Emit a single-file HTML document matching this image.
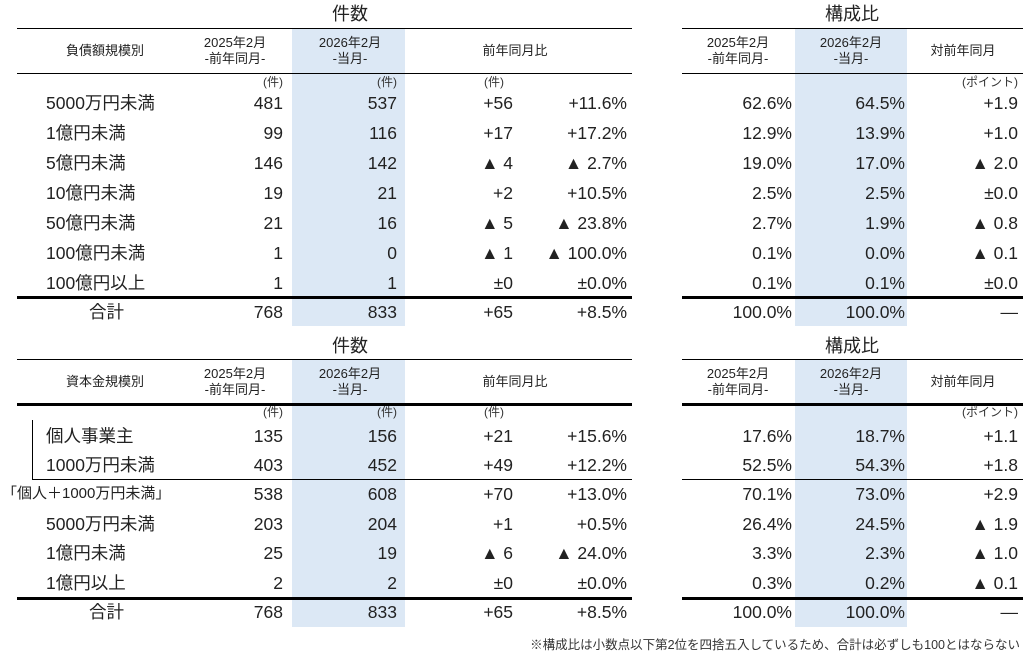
<!DOCTYPE html>
<html><head><meta charset="utf-8"><style>
body{margin:0;width:1035px;height:669px;background:#fff;position:relative;overflow:hidden;font-family:"Liberation Sans","Noto Sans CJK JP",sans-serif;color:#222}
div{position:absolute;white-space:nowrap}
.b{background:#dce8f5}
.l{background:#000;height:1px}
.t{height:3px;background:#000}
.r{font-size:17.5px;text-align:right;line-height:20px}
.c{font-size:13px;text-align:center;line-height:16px}
.u{font-size:12px;text-align:right;line-height:13px;color:#333}
.h{font-size:18px;text-align:center;line-height:20px}
</style></head><body>
<div class="b" style="left:292px;top:29px;width:113px;height:297px"></div>
<div class="b" style="left:795px;top:29px;width:112px;height:297px"></div>
<div class="b" style="left:292px;top:360px;width:113px;height:267px"></div>
<div class="b" style="left:795px;top:360px;width:112px;height:267px"></div>

<div class="h" style="left:300px;top:4px;width:100px">件数</div>
<div class="h" style="left:802px;top:4px;width:100px">構成比</div>
<div class="h" style="left:300px;top:336px;width:100px">件数</div>
<div class="h" style="left:802px;top:336px;width:100px">構成比</div>

<div class="l" style="left:17px;top:28px;width:615px"></div>
<div class="l" style="left:682px;top:28px;width:341px"></div>
<div class="l" style="left:17px;top:73px;width:615px"></div>
<div class="l" style="left:682px;top:73px;width:341px"></div>
<div class="t" style="left:17px;top:296px;width:615px"></div>
<div class="t" style="left:682px;top:296px;width:341px"></div>
<div class="l" style="left:17px;top:359px;width:615px"></div>
<div class="l" style="left:682px;top:359px;width:341px"></div>
<div class="t" style="left:17px;top:403px;width:615px"></div>
<div class="t" style="left:682px;top:403px;width:341px"></div>
<div class="l" style="left:32px;top:479px;width:600px"></div>
<div class="l" style="left:682px;top:479px;width:341px"></div>
<div style="left:32px;top:420px;width:1px;height:60px;background:#000"></div>
<div class="t" style="left:17px;top:597px;width:615px"></div>
<div class="t" style="left:682px;top:597px;width:341px"></div>

<div class="c" style="left:40px;top:43px;width:130px">負債額規模別</div>
<div class="c" style="left:175px;top:35px;width:120px">2025年2月<br>-前年同月-</div>
<div class="c" style="left:290px;top:35px;width:120px">2026年2月<br>-当月-</div>
<div class="c" style="left:455px;top:43px;width:120px">前年同月比</div>
<div class="c" style="left:678px;top:35px;width:120px">2025年2月<br>-前年同月-</div>
<div class="c" style="left:791px;top:35px;width:120px">2026年2月<br>-当月-</div>
<div class="c" style="left:903px;top:43px;width:120px">対前年同月</div>
<div class="u" style="right:752px;top:76px">(件)</div>
<div class="u" style="right:638px;top:76px">(件)</div>
<div class="u" style="left:484px;top:76px">(件)</div>
<div class="u" style="right:17px;top:76px">(ポイント)</div>

<div class="c" style="left:40px;top:374px;width:130px">資本金規模別</div>
<div class="c" style="left:175px;top:366px;width:120px">2025年2月<br>-前年同月-</div>
<div class="c" style="left:290px;top:366px;width:120px">2026年2月<br>-当月-</div>
<div class="c" style="left:455px;top:374px;width:120px">前年同月比</div>
<div class="c" style="left:678px;top:366px;width:120px">2025年2月<br>-前年同月-</div>
<div class="c" style="left:791px;top:366px;width:120px">2026年2月<br>-当月-</div>
<div class="c" style="left:903px;top:374px;width:120px">対前年同月</div>
<div class="u" style="right:752px;top:406px">(件)</div>
<div class="u" style="right:638px;top:406px">(件)</div>
<div class="u" style="left:484px;top:406px">(件)</div>
<div class="u" style="right:17px;top:406px">(ポイント)</div>

<div class="r" style="left:46px;top:93px;text-align:left">5000万円未満</div><div class="r" style="right:752px;top:93px">481</div><div class="r" style="right:638px;top:93px">537</div><div class="r" style="right:522px;top:93px">+56</div><div class="r" style="right:408px;top:93px">+11.6%</div><div class="r" style="right:243px;top:93px">62.6%</div><div class="r" style="right:130px;top:93px">64.5%</div><div class="r" style="right:17px;top:93px">+1.9</div>
<div class="r" style="left:46px;top:123px;text-align:left">1億円未満</div><div class="r" style="right:752px;top:123px">99</div><div class="r" style="right:638px;top:123px">116</div><div class="r" style="right:522px;top:123px">+17</div><div class="r" style="right:408px;top:123px">+17.2%</div><div class="r" style="right:243px;top:123px">12.9%</div><div class="r" style="right:130px;top:123px">13.9%</div><div class="r" style="right:17px;top:123px">+1.0</div>
<div class="r" style="left:46px;top:153px;text-align:left">5億円未満</div><div class="r" style="right:752px;top:153px">146</div><div class="r" style="right:638px;top:153px">142</div><div class="r" style="right:522px;top:153px">▲ 4</div><div class="r" style="right:408px;top:153px">▲ 2.7%</div><div class="r" style="right:243px;top:153px">19.0%</div><div class="r" style="right:130px;top:153px">17.0%</div><div class="r" style="right:17px;top:153px">▲ 2.0</div>
<div class="r" style="left:46px;top:183px;text-align:left">10億円未満</div><div class="r" style="right:752px;top:183px">19</div><div class="r" style="right:638px;top:183px">21</div><div class="r" style="right:522px;top:183px">+2</div><div class="r" style="right:408px;top:183px">+10.5%</div><div class="r" style="right:243px;top:183px">2.5%</div><div class="r" style="right:130px;top:183px">2.5%</div><div class="r" style="right:17px;top:183px">±0.0</div>
<div class="r" style="left:46px;top:213px;text-align:left">50億円未満</div><div class="r" style="right:752px;top:213px">21</div><div class="r" style="right:638px;top:213px">16</div><div class="r" style="right:522px;top:213px">▲ 5</div><div class="r" style="right:408px;top:213px">▲ 23.8%</div><div class="r" style="right:243px;top:213px">2.7%</div><div class="r" style="right:130px;top:213px">1.9%</div><div class="r" style="right:17px;top:213px">▲ 0.8</div>
<div class="r" style="left:46px;top:243px;text-align:left">100億円未満</div><div class="r" style="right:752px;top:243px">1</div><div class="r" style="right:638px;top:243px">0</div><div class="r" style="right:522px;top:243px">▲ 1</div><div class="r" style="right:408px;top:243px">▲ 100.0%</div><div class="r" style="right:243px;top:243px">0.1%</div><div class="r" style="right:130px;top:243px">0.0%</div><div class="r" style="right:17px;top:243px">▲ 0.1</div>
<div class="r" style="left:46px;top:273px;text-align:left">100億円以上</div><div class="r" style="right:752px;top:273px">1</div><div class="r" style="right:638px;top:273px">1</div><div class="r" style="right:522px;top:273px">±0</div><div class="r" style="right:408px;top:273px">±0.0%</div><div class="r" style="right:243px;top:273px">0.1%</div><div class="r" style="right:130px;top:273px">0.1%</div><div class="r" style="right:17px;top:273px">±0.0</div>
<div class="r" style="left:89px;top:302px;text-align:left">合計</div><div class="r" style="right:752px;top:302px">768</div><div class="r" style="right:638px;top:302px">833</div><div class="r" style="right:522px;top:302px">+65</div><div class="r" style="right:408px;top:302px">+8.5%</div><div class="r" style="right:243px;top:302px">100.0%</div><div class="r" style="right:130px;top:302px">100.0%</div><div class="r" style="right:17px;top:302px">—</div>

<div class="r" style="left:46px;top:426px;text-align:left">個人事業主</div><div class="r" style="right:752px;top:426px">135</div><div class="r" style="right:638px;top:426px">156</div><div class="r" style="right:522px;top:426px">+21</div><div class="r" style="right:408px;top:426px">+15.6%</div><div class="r" style="right:243px;top:426px">17.6%</div><div class="r" style="right:130px;top:426px">18.7%</div><div class="r" style="right:17px;top:426px">+1.1</div>
<div class="r" style="left:46px;top:455px;text-align:left">1000万円未満</div><div class="r" style="right:752px;top:455px">403</div><div class="r" style="right:638px;top:455px">452</div><div class="r" style="right:522px;top:455px">+49</div><div class="r" style="right:408px;top:455px">+12.2%</div><div class="r" style="right:243px;top:455px">52.5%</div><div class="r" style="right:130px;top:455px">54.3%</div><div class="r" style="right:17px;top:455px">+1.8</div>
<div class="r" style="left:2px;top:484px;text-align:left;font-size:15px">「個人＋1000万円未満」</div><div class="r" style="right:752px;top:484px">538</div><div class="r" style="right:638px;top:484px">608</div><div class="r" style="right:522px;top:484px">+70</div><div class="r" style="right:408px;top:484px">+13.0%</div><div class="r" style="right:243px;top:484px">70.1%</div><div class="r" style="right:130px;top:484px">73.0%</div><div class="r" style="right:17px;top:484px">+2.9</div>
<div class="r" style="left:46px;top:514px;text-align:left">5000万円未満</div><div class="r" style="right:752px;top:514px">203</div><div class="r" style="right:638px;top:514px">204</div><div class="r" style="right:522px;top:514px">+1</div><div class="r" style="right:408px;top:514px">+0.5%</div><div class="r" style="right:243px;top:514px">26.4%</div><div class="r" style="right:130px;top:514px">24.5%</div><div class="r" style="right:17px;top:514px">▲ 1.9</div>
<div class="r" style="left:46px;top:543px;text-align:left">1億円未満</div><div class="r" style="right:752px;top:543px">25</div><div class="r" style="right:638px;top:543px">19</div><div class="r" style="right:522px;top:543px">▲ 6</div><div class="r" style="right:408px;top:543px">▲ 24.0%</div><div class="r" style="right:243px;top:543px">3.3%</div><div class="r" style="right:130px;top:543px">2.3%</div><div class="r" style="right:17px;top:543px">▲ 1.0</div>
<div class="r" style="left:46px;top:573px;text-align:left">1億円以上</div><div class="r" style="right:752px;top:573px">2</div><div class="r" style="right:638px;top:573px">2</div><div class="r" style="right:522px;top:573px">±0</div><div class="r" style="right:408px;top:573px">±0.0%</div><div class="r" style="right:243px;top:573px">0.3%</div><div class="r" style="right:130px;top:573px">0.2%</div><div class="r" style="right:17px;top:573px">▲ 0.1</div>
<div class="r" style="left:89px;top:602px;text-align:left">合計</div><div class="r" style="right:752px;top:602px">768</div><div class="r" style="right:638px;top:602px">833</div><div class="r" style="right:522px;top:602px">+65</div><div class="r" style="right:408px;top:602px">+8.5%</div><div class="r" style="right:243px;top:602px">100.0%</div><div class="r" style="right:130px;top:602px">100.0%</div><div class="r" style="right:17px;top:602px">—</div>

<div style="right:15px;top:638px;font-size:12.5px;line-height:15px;color:#333">※構成比は小数点以下第2位を四捨五入しているため、合計は必ずしも100とはならない</div>
</body></html>
